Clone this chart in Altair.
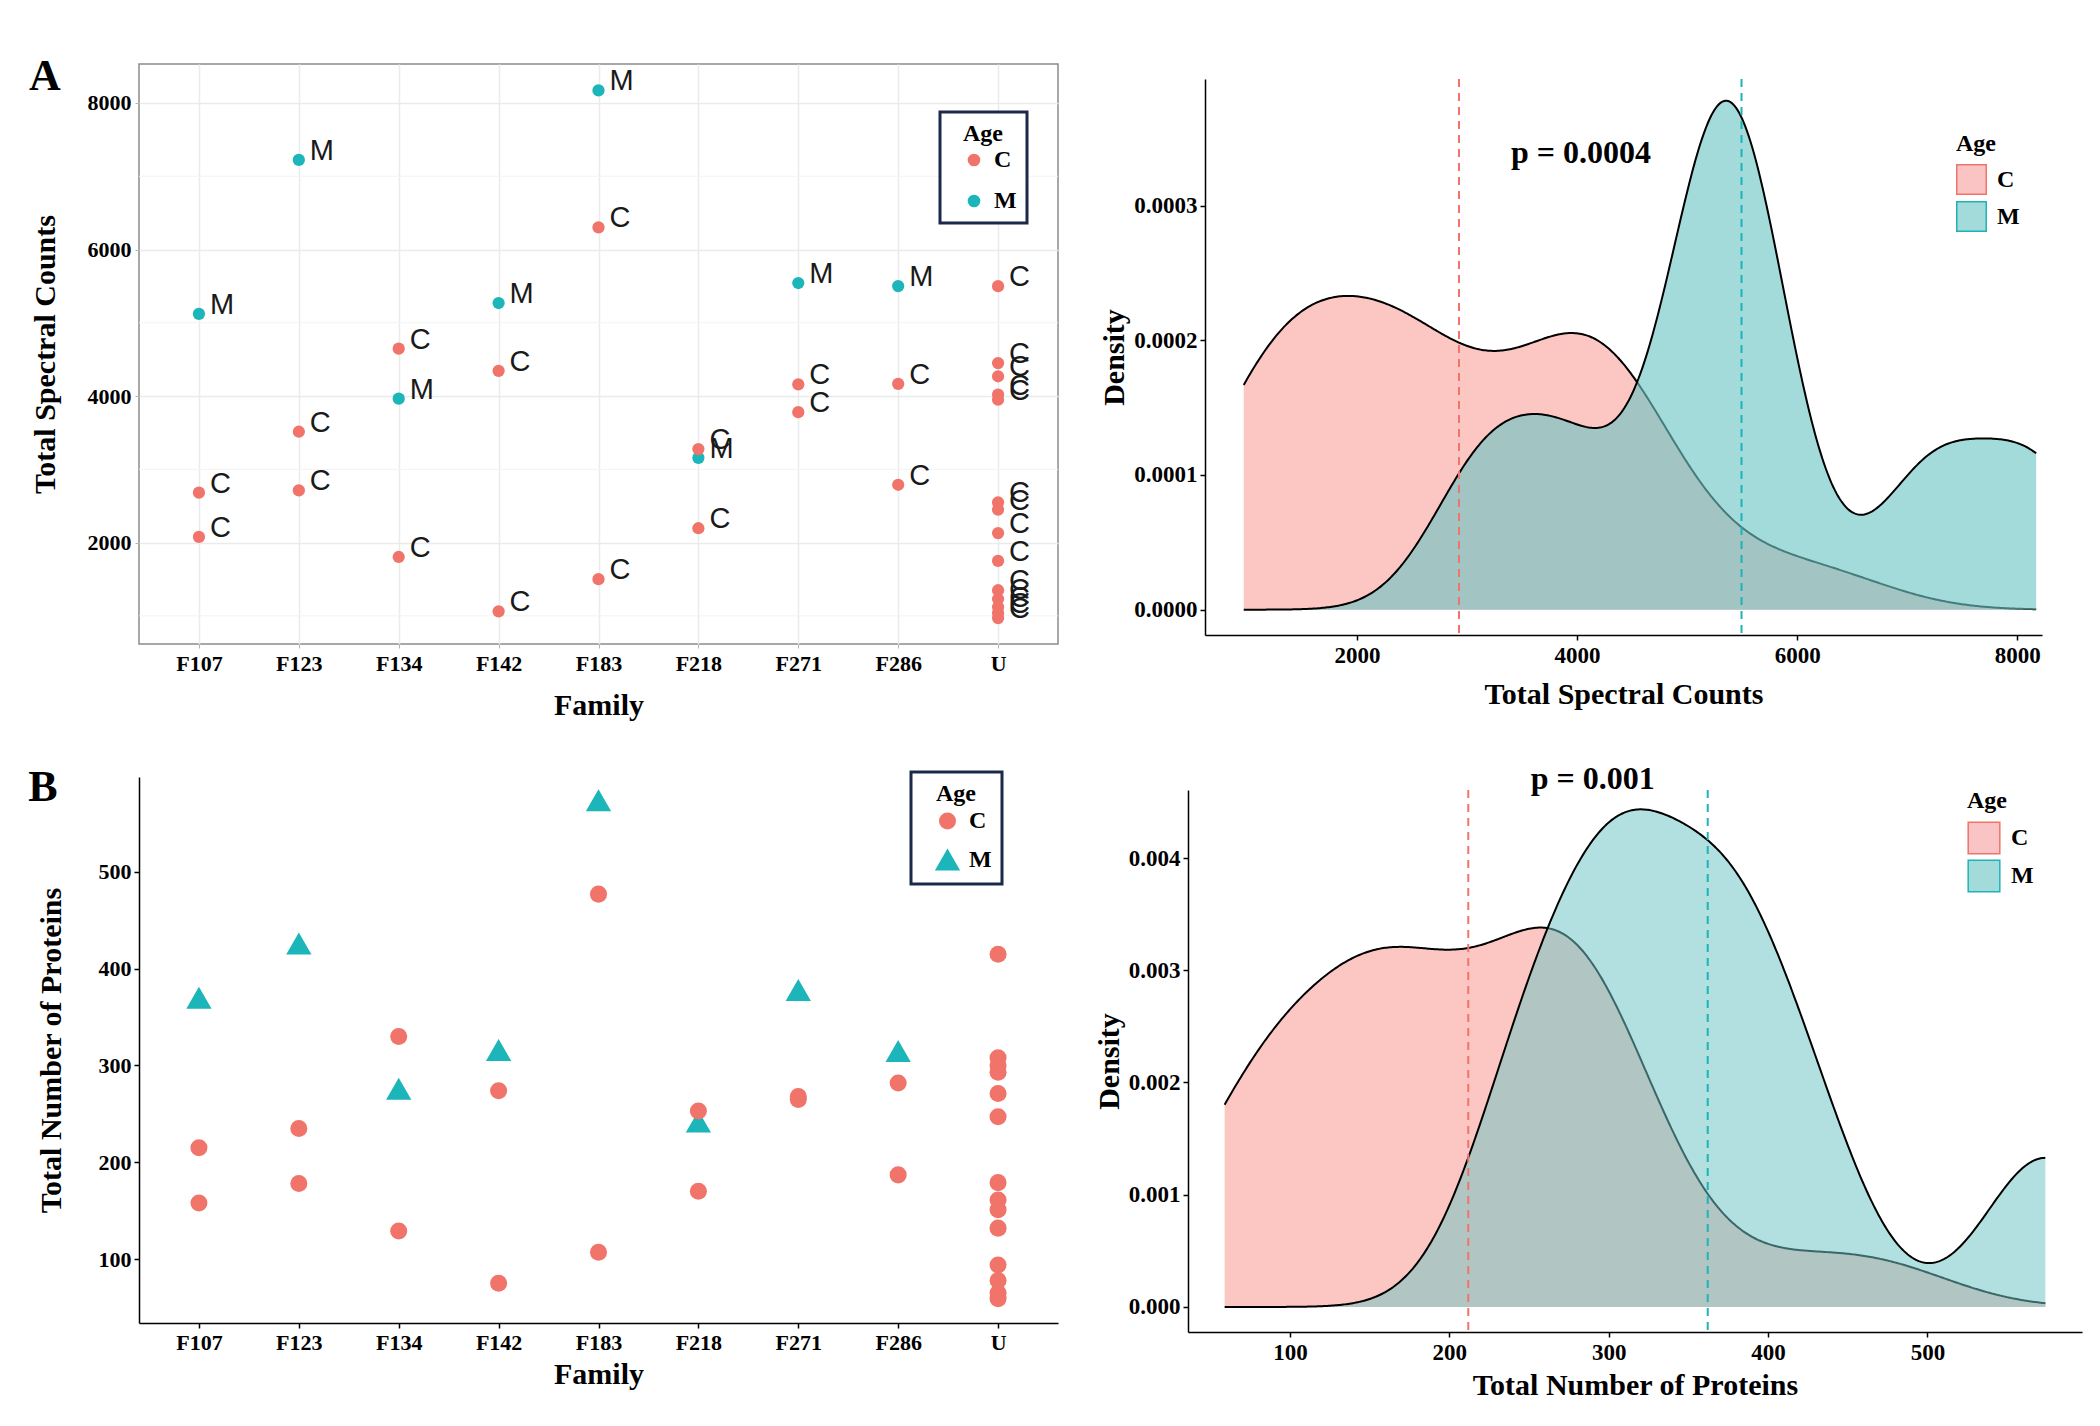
import altair as alt
import numpy as np
import pandas as pd

# ---------------- data ----------------
FAMILIES = ["F107", "F123", "F134", "F142", "F183", "F218", "F271", "F286", "U"]

FAMILY = (["F107"] * 3 + ["F123"] * 3 + ["F134"] * 3 + ["F142"] * 3 + ["F183"] * 3
          + ["F218"] * 3 + ["F271"] * 3 + ["F286"] * 3 + ["U"] * 14)
AGE = ["M", "C", "C"] * 8 + ["C"] * 14
SPECTRAL = [5122, 2682, 2077, 7223, 3513, 2712, 3964, 4647, 1804, 5270, 4344, 1062,
            8172, 6303, 1501, 3157, 3276, 2196, 5543, 4160, 3780, 5501, 4166, 2789,
            5500, 4450, 4270, 4020, 3950, 2550, 2450, 2130, 1750, 1350, 1230, 1120, 1040, 970]
PROTEINS = [370, 215, 158, 426, 235, 178, 276, 330, 129, 316, 274, 75,
            574, 477, 107, 242, 253, 170, 378, 268, 265, 315, 282, 187,
            415, 308, 300, 293, 271, 247, 179, 161, 151, 132, 94, 78, 65, 59]

P_TEXT_A = ["p = 0.0004"]
P_POS_A = [4035, 0.000339]
P_TEXT_B = ["p = 0.001"]
P_POS_B = [290, 0.0047]

Y_MAJOR_A = [2000, 4000, 6000, 8000]
Y_MINOR_A = [1000, 3000, 5000, 7000]
Y_TICKS_B = [100, 200, 300, 400, 500]
X_TICKS_DA = [2000, 4000, 6000, 8000]
Y_TICKS_DA = [0, 0.0001, 0.0002, 0.0003]
X_TICKS_DB = [100, 200, 300, 400, 500]
Y_TICKS_DB = [0, 0.001, 0.002, 0.003, 0.004]

df = pd.DataFrame({"Family": FAMILY, "Age": AGE, "Spectral": SPECTRAL, "Proteins": PROTEINS})

# ---------------- styles ----------------
SERIF = "Liberation Serif"
SANS = "Liberation Sans"
C_PT = "#F0746A"
M_PT = "#1CB5B9"
C_FILL = "#F8766D"
M_FILL = "#6DC4C4"
AGES = ["C", "M"]


def bw_nrd0(v):
    v = np.asarray(v, float)
    sd = v.std(ddof=1)
    q75, q25 = np.percentile(v, [75, 25])
    return float(0.9 * min(sd, (q75 - q25) / 1.34) * len(v) ** -0.2)


lab = dict(labelFont=SERIF, labelFontSize=22, labelFontWeight="bold", labelColor="black",
           titleFont=SERIF, titleFontSize=30, titleFontWeight="bold", titleColor="black")
classic = dict(grid=False, domain=True, domainColor="black", domainWidth=1.5,
               ticks=True, tickColor="black", tickWidth=1.5, tickSize=5)

# ---------------- Panel A : scatter spectral counts ----------------
xA_scale = alt.Scale(type="point", domain=FAMILIES, padding=0.6)
yA_scale = alt.Scale(domain=[616, 8532], nice=False, zero=False)
xA_axis = alt.Axis(title="Family", labelAngle=0, grid=True, gridColor="#EBEBEB", gridWidth=1.5,
                   domain=False, ticks=True, tickColor="#B3B3B3", tickSize=4,
                   labelPadding=5, titlePadding=16, **lab)
yA_axis = alt.Axis(title="Total Spectral Counts", values=Y_MAJOR_A, format="d", grid=True,
                   gridColor="#EBEBEB", gridWidth=1.5, domain=False, ticks=True,
                   tickColor="#B3B3B3", tickSize=4, labelPadding=4, titlePadding=27, **lab)

legA = alt.Legend(title="Age", orient="none", legendX=801, legendY=48, strokeColor="#1B2A4A",
                  padding=10, fillColor="white", symbolType="circle",
                  symbolSize=160, symbolOpacity=1, symbolOffset=12,
                  titleFont=SERIF, titleFontSize=24, titleAnchor="middle",
                  titleFontWeight="bold", titleColor="black", labelFont=SERIF,
                  labelFontSize=24, labelFontWeight="bold", labelColor="black",
                  titlePadding=2, rowPadding=17, labelOffset=8)

minorA = alt.Chart(pd.DataFrame({"v": Y_MINOR_A})).mark_rule(color="#F3F3F3", strokeWidth=1).encode(
    y=alt.Y("v:Q", scale=yA_scale, axis=yA_axis))
ptsA = alt.Chart(df).mark_circle(size=150, opacity=1).encode(
    x=alt.X("Family:N", scale=xA_scale, axis=xA_axis),
    y=alt.Y("Spectral:Q", scale=yA_scale, axis=yA_axis),
    color=alt.Color("Age:N", scale=alt.Scale(domain=AGES, range=[C_PT, M_PT]), legend=legA))
lblA = alt.Chart(df).mark_text(align="left", baseline="middle", dx=11, dy=-9, font=SANS,
                               fontSize=29, color="#1A1A1A").encode(
    x=alt.X("Family:N", scale=xA_scale, axis=xA_axis),
    y=alt.Y("Spectral:Q", scale=yA_scale, axis=yA_axis),
    text="Age:N")
letterA = alt.Chart(pd.DataFrame({"t": ["A"]})).mark_text(
    font=SERIF, fontSize=44, fontWeight="bold", color="black", align="center",
    baseline="middle").encode(x=alt.value(-94), y=alt.value(13), text="t:N")

panelA = alt.layer(minorA, ptsA, lblA, letterA).properties(
    width=919, height=580, view=alt.ViewBackground(stroke="#8C8C8C", strokeWidth=1.5))

# ---------------- Panel B : scatter number of proteins ----------------
xB_scale = alt.Scale(type="point", domain=FAMILIES, padding=0.6)
yB_scale = alt.Scale(domain=[34, 598], nice=False, zero=False)
xB_axis = alt.Axis(title="Family", labelAngle=0, labelPadding=4, titlePadding=6, **classic, **lab)
yB_axis = alt.Axis(title="Total Number of Proteins", values=Y_TICKS_B, format="d",
                   labelPadding=3, titlePadding=32, **classic, **lab)
legB = alt.Legend(title="Age", orient="none", legendX=772, legendY=-5, strokeColor="#1B2A4A",
                  padding=10, fillColor="white", symbolSize=330, symbolOpacity=1, symbolOffset=13,
                  titleFont=SERIF, titleFontSize=24, titleFontWeight="bold", titleColor="black",
                  titleAnchor="middle",
                  labelFont=SERIF, labelFontSize=24, labelFontWeight="bold", labelColor="black",
                  titlePadding=3, rowPadding=12, labelOffset=8)
ptsB = alt.Chart(df).mark_point(filled=True, opacity=1).encode(
    x=alt.X("Family:N", scale=xB_scale, axis=xB_axis),
    y=alt.Y("Proteins:Q", scale=yB_scale, axis=yB_axis),
    color=alt.Color("Age:N", scale=alt.Scale(domain=AGES, range=[C_PT, M_PT]), legend=legB),
    shape=alt.Shape("Age:N", scale=alt.Scale(domain=AGES, range=["circle", "triangle-up"]), legend=legB),
    size=alt.Size("Age:N", scale=alt.Scale(domain=AGES, range=[290, 640]), legend=None))
letterB = alt.Chart(pd.DataFrame({"t": ["B"]})).mark_text(
    font=SERIF, fontSize=44, fontWeight="bold", color="black", align="center",
    baseline="middle").encode(x=alt.value(-96), y=alt.value(11), text="t:N")
panelB = alt.layer(ptsB, letterB).properties(width=919, height=546)


# ---------------- Density panels ----------------
def density_panel(field, xdom, ydom, xvals, yvals, yfmt, xtitle, m_alpha, ptext, ppos,
                  legxy, symsize, rowpad, width, height, xtpad):
    xs = alt.Scale(domain=xdom, nice=False, zero=False)
    ys = alt.Scale(domain=ydom, nice=False, zero=False)
    xa = alt.Axis(title=xtitle, values=xvals, format="d", labelPadding=4, titlePadding=xtpad,
                  **classic, **{**lab, "labelFontSize": 23})
    ya = alt.Axis(title="Density", values=yvals, format=yfmt, labelPadding=3, titlePadding=4,
                  **classic, **{**lab, "labelFontSize": 23})
    leg = alt.Legend(title="Age", orient="none", legendX=legxy[0], legendY=legxy[1],
                     symbolType="square", symbolSize=symsize, symbolStrokeColor="black",
                     symbolStrokeWidth=1.5, symbolOpacity=1, titleFont=SERIF, titleFontSize=24,
                     titleFontWeight="bold", titleColor="black", labelFont=SERIF,
                     labelFontSize=24, labelFontWeight="bold", labelColor="black",
                     titlePadding=8, rowPadding=rowpad, labelOffset=10)
    ext = [float(df[field].min()), float(df[field].max())]
    dens = f"dens_{field}"
    layers = []
    for a, col, alpha in [("C", C_FILL, 0.42), ("M", M_FILL, m_alpha)]:
        bw = bw_nrd0(df.loc[df.Age == a, field])
        d = alt.Chart(df).transform_filter(alt.datum.Age == a).transform_density(
            field, as_=[f"x_{field}", dens], bandwidth=bw, extent=ext, steps=512, groupby=["Age"])
        layers.append(d.mark_area(color=col, fillOpacity=alpha, strokeWidth=0).encode(
            x=alt.X(f"x_{field}:Q", scale=xs, axis=xa),
            y=alt.Y(f"{dens}:Q", scale=ys, axis=ya)))
        layers.append(d.mark_line(color="black", strokeWidth=2).encode(
            x=alt.X(f"x_{field}:Q", scale=xs, axis=xa),
            y=alt.Y(f"{dens}:Q", scale=ys, axis=ya)))
    # empty layer that only carries the legend (opaque look-alike swatches)
    legend_layer = alt.Chart(df).transform_filter("false").mark_square(size=10).encode(
        x=alt.X(f"{field}:Q", scale=xs, axis=xa),
        fill=alt.Fill("Age:N", scale=alt.Scale(domain=AGES, range=["#F9C4C3", "#A3DADA"]), legend=leg))
    mname = f"mean_{field}"
    rules = alt.Chart(df).transform_aggregate(**{mname: f"mean({field})"}, groupby=["Age"]).mark_rule(
        strokeDash=[8, 6], strokeWidth=2).encode(
        x=alt.X(f"{mname}:Q", scale=xs, axis=xa),
        stroke=alt.Stroke("Age:N", scale=alt.Scale(domain=AGES, range=[C_PT, "#1FB3B8"]), legend=None))
    ptxt = alt.Chart(pd.DataFrame({"px": [ppos[0]], "py": [ppos[1]], "t": ptext})).mark_text(
        font=SERIF, fontSize=32, fontWeight="bold", color="black").encode(
        x=alt.X("px:Q", scale=xs, axis=xa), y=alt.Y("py:Q", scale=ys, axis=ya), text="t:N")
    return alt.layer(*layers, legend_layer, rules, ptxt).properties(width=width, height=height)


panelTR = density_panel("Spectral", [618, 8225], [-0.0000188, 0.000394], X_TICKS_DA, Y_TICKS_DA,
                        ".4f", "Total Spectral Counts", 0.63, P_TEXT_A, P_POS_A, (751, 53),
                        870, 0, 837, 556, 12)
panelBR = density_panel("Proteins", [36, 597], [-0.000223, 0.004606], X_TICKS_DB, Y_TICKS_DB,
                        ".3f", "Total Number of Proteins", 0.53, P_TEXT_B, P_POS_B, (779, -1),
                        1000, 0, 894, 542, 6)


def spacer():
    # invisible 1x1 view used only to push the density panels down a little
    return alt.Chart(pd.DataFrame({"s": [0]})).mark_point(opacity=0, size=1).encode(
        x=alt.value(0), y=alt.value(0)).properties(width=1, height=1)


indep = dict(color="independent", shape="independent", size="independent",
             fill="independent", stroke="independent")
legind = dict(color="independent", shape="independent", fill="independent")

rightTop = alt.vconcat(spacer(), panelTR, spacing=13).resolve_scale(**indep).resolve_legend(**legind)
rightBot = alt.vconcat(spacer(), panelBR, spacing=-15).resolve_scale(**indep).resolve_legend(**legind)
row1 = alt.hconcat(panelA, rightTop, spacing=39).resolve_scale(**indep).resolve_legend(**legind)
row2 = alt.hconcat(panelB, rightBot, spacing=36).resolve_scale(**indep).resolve_legend(**legind)
chart = alt.vconcat(row1, row2, spacing=42).resolve_scale(**indep).resolve_legend(**legind).properties(
    padding={"left": 20, "top": 46, "right": 5, "bottom": 5},
    background="white",
).configure_view(stroke=None).configure_legend(strokeWidth=3)

chart.save("out.html", embed_options={"renderer": "svg", "actions": False})
